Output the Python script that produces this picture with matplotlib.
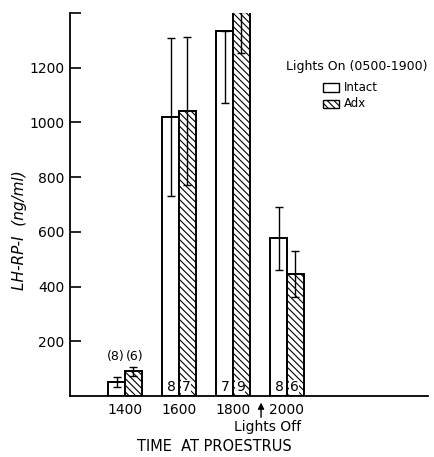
import matplotlib
matplotlib.use("Agg")
import matplotlib.pyplot as plt
import numpy as np
from matplotlib.patches import Rectangle

plt.rcParams['hatch.linewidth'] = 0.8

times = ["1400", "1600", "1800", "2000"]
intact = [52, 1020, 1334, 577]
intact_err_lo = [18, 290, 264, 118]
intact_err_hi = [19, 288, 0, 114]
adx = [92, 1041, 1402, 447]
adx_err_lo = [18, 268, 150, 85]
adx_err_hi = [15, 273, 0, 84]
intact_n = ["(8)", "8", "7", "8"]
adx_n = ["(6)", "7", "9", "6"]
yticks = [200, 400, 600, 800, 1000, 1200, 1400]
yticklabels = ["200", "400", "600", "800", "1000", "1200", ""]

fig = plt.figure(figsize=(4.34, 4.57), dpi=100)
ax = fig.add_axes([0.161, 0.1335, 0.986 - 0.161, 0.9716 - 0.1335])

x = np.arange(len(times))
w = 0.31
ax.bar(x - w/2, intact, w, color="white", edgecolor="black", linewidth=1.4, zorder=2)
ax.bar(x + w/2, adx, w, color="white", edgecolor="black", linewidth=1.4,
       hatch="\\\\\\\\\\", zorder=2)
ax.errorbar(x - w/2, intact, yerr=[intact_err_lo, intact_err_hi], fmt="none",
            ecolor="black", elinewidth=1.0, capsize=3, capthick=1.0, zorder=3)
ax.errorbar(x + w/2, adx, yerr=[adx_err_lo, adx_err_hi], fmt="none",
            ecolor="black", elinewidth=1.0, capsize=3, capthick=1.0, zorder=3)

for i in range(len(times)):
    if intact_n[i].startswith("("):
        ax.text(x[i] - w/2 - 0.02, 145, intact_n[i], ha="center", va="center", fontsize=9)
        ax.text(x[i] + w/2 + 0.02, 145, adx_n[i], ha="center", va="center", fontsize=9)
    else:
        ax.text(x[i] - w/2 + 0.02, 32, intact_n[i], ha="center", va="center", fontsize=10,
                zorder=4)
        ax.text(x[i] + w/2 - 0.02, 32, adx_n[i], ha="center", va="center", fontsize=10,
                zorder=4, bbox=dict(facecolor="white", edgecolor="none", pad=0.3))

ax.set_xlim(-1.02, 5.61)
ax.set_ylim(0, 1400)
ax.set_xticks(x)
ax.set_xticklabels(times, fontsize=10)
ax.tick_params(axis="x", length=0, pad=5)
ax.set_yticks(yticks)
ax.set_yticklabels(yticklabels, fontsize=10)
ax.tick_params(axis="y", direction="in", length=8, width=1.2, pad=4)
for s in ["top", "right"]:
    ax.spines[s].set_visible(False)
ax.spines["left"].set_linewidth(1.3)
ax.spines["bottom"].set_linewidth(1.3)

ax.set_ylabel("LH-RP-I  (ng/ml)", fontsize=11, style="italic")
ax.yaxis.set_label_coords(-0.12, 0.433)
ax.text((214 - 70) / 358, -0.133, "TIME  AT PROESTRUS", transform=ax.transAxes,
        fontsize=10.5, ha="center", va="center", clip_on=False)

# Lights off arrow
ax.annotate("", xy=(2.52, -14), xytext=(2.52, -88),
            arrowprops=dict(arrowstyle="-|>", color="black", lw=1.0, mutation_scale=9),
            annotation_clip=False)
ax.text(2.64, -113, "Lights Off", ha="center", va="center", fontsize=10)

# Legend
ax.text(0.603, 0.86, "Lights On (0500-1900)", transform=ax.transAxes, fontsize=9,
        ha="left", va="center")
ax.add_patch(Rectangle((0.707, 0.794), 0.045, 0.022, transform=ax.transAxes,
                       facecolor="white", edgecolor="black", lw=1.0, clip_on=False))
ax.add_patch(Rectangle((0.707, 0.752), 0.045, 0.022, transform=ax.transAxes,
                       facecolor="white", edgecolor="black", lw=1.0, hatch="\\\\\\\\\\",
                       clip_on=False))
ax.text(0.765, 0.805, "Intact", transform=ax.transAxes, fontsize=8.5, ha="left", va="center")
ax.text(0.765, 0.763, "Adx", transform=ax.transAxes, fontsize=8.5, ha="left", va="center")

fig.savefig("out.png", dpi=100)
